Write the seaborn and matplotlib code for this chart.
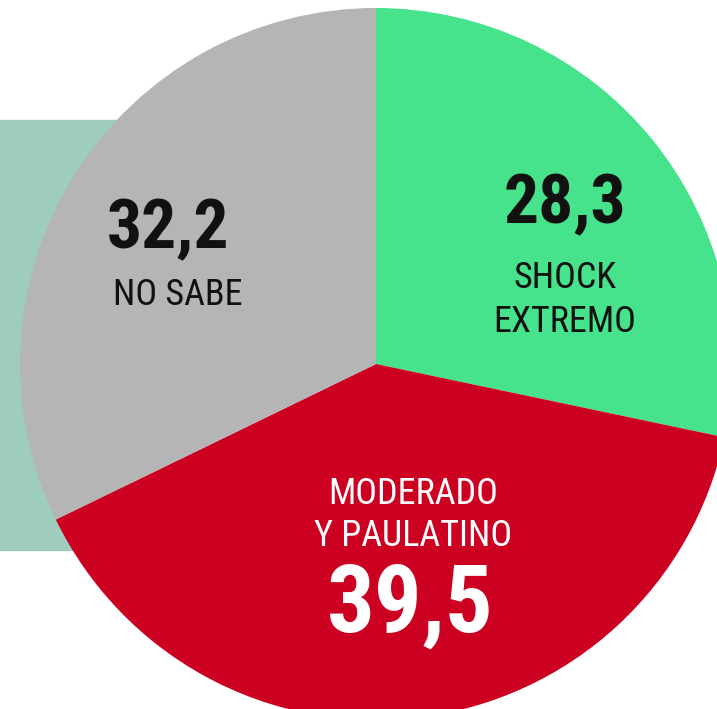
import matplotlib
matplotlib.use("Agg")
import matplotlib.pyplot as plt
import seaborn as sns
from matplotlib.patches import Rectangle

labels = ["SHOCK\nEXTREMO", "MODERADO\nY PAULATINO", "NO SABE"]
values = [28.3, 39.5, 32.2]
value_text = ["28,3", "39,5", "32,2"]
colors = ["#46e38c", "#cc0020", "#b5b5b5"]

sns.set_theme(style="white")
plt.rcParams["font.family"] = ["Roboto Condensed", "DejaVu Sans"]

fig = plt.figure(figsize=(7.17, 7.09), dpi=100)
ax = fig.add_axes([0, 0, 1, 1])

# pale teal block behind the pie
ax.add_patch(Rectangle((0, 709 - 550), 130, 430, color="#9fcdbd", zorder=0))

wedges, _ = ax.pie(values, colors=colors, startangle=90, counterclock=False,
                   center=(376, 709 - 364), radius=356,
                   wedgeprops=dict(linewidth=0), frame=True)
for w in wedges:
    w.set_zorder(1)

ax.set_xlim(0, 717)
ax.set_ylim(0, 709)
ax.set_aspect("equal")
ax.axis("off")

# green slice
ax.text(565, 709 - 205, value_text[0], ha="center", va="center", fontsize=50,
        fontweight="bold", color="#111111", zorder=3)
ax.text(565, 709 - 300, labels[0], ha="center", va="center", fontsize=26,
        color="#111111", linespacing=1.25, zorder=3)

# red slice
ax.text(413, 709 - 515, labels[1], ha="center", va="center", fontsize=26,
        color="white", linespacing=1.25, zorder=3)
ax.text(410, 709 - 606, value_text[1], ha="center", va="center", fontsize=68,
        fontweight="bold", color="white", zorder=3)

# gray slice
ax.text(168, 709 - 230, value_text[2], ha="center", va="center", fontsize=50,
        fontweight="bold", color="#111111", zorder=3)
ax.text(178, 709 - 295, labels[2], ha="center", va="center", fontsize=26,
        color="#111111", zorder=3)

fig.savefig("out.png", dpi=100)
